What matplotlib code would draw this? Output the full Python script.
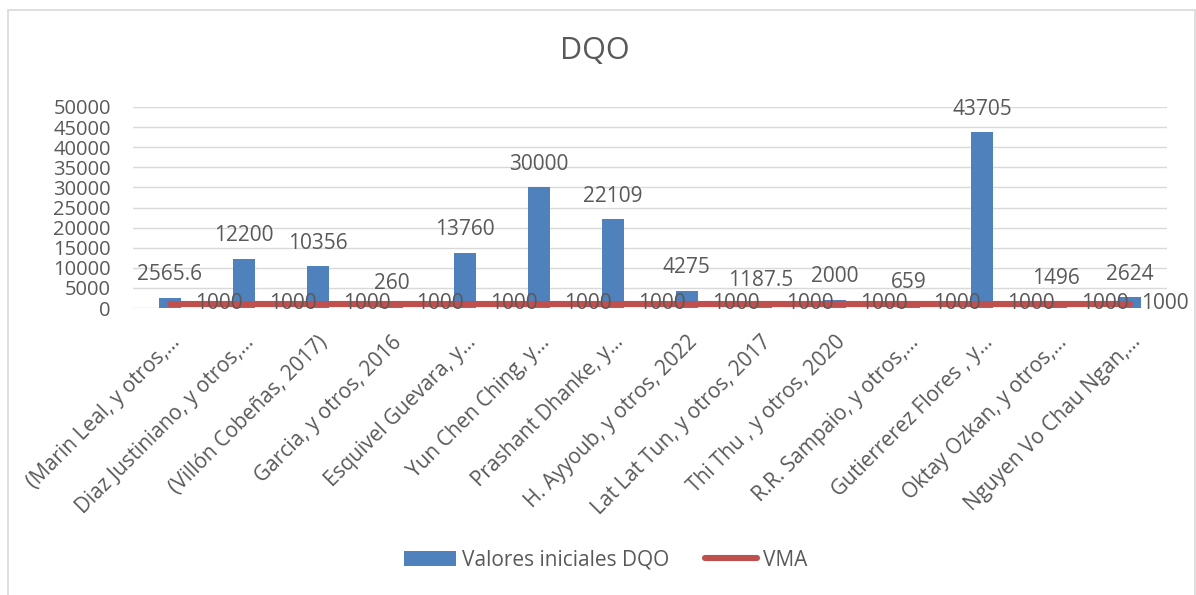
import matplotlib
matplotlib.use("Agg")
import matplotlib.pyplot as plt
from matplotlib.patches import Patch, Rectangle
from matplotlib.lines import Line2D

categories = [
    "(Marin Leal, y otros,…",
    "Diaz Justiniano, y otros,…",
    "(Villón Cobeñas, 2017)",
    "Garcia, y otros, 2016",
    "Esquivel Guevara, y…",
    "Yun Chen Ching, y…",
    "Prashant Dhanke, y…",
    "H. Ayyoub, y otros, 2022",
    "Lat Lat Tun, y otros, 2017",
    "Thi Thu , y otros, 2020",
    "R.R. Sampaio, y otros,…",
    "Gutierrerez Flores , y…",
    "Oktay Ozkan, y otros,…",
    "Nguyen Vo Chau Ngan,…",
]
dqo_values = [2565.6, 12200, 10356, 260, 13760, 30000, 22109, 4275, 1187.5,
              2000, 659, 43705, 1496, 2624]
vma_values = [1000] * 14
yticks = [0, 5000, 10000, 15000, 20000, 25000, 30000, 35000, 40000, 45000, 50000]
series_names = ["Valores iniciales DQO", "VMA"]
title = "DQO"

FONT = "Open Sans"
TXT = "#595959"
BLUE = "#4F81BD"
RED = "#C0504D"
GRID = "#D9D9D9"

plt.rcParams["font.family"] = [FONT, "DejaVu Sans"]

W, H = 1196, 595
fig = plt.figure(figsize=(W / 100, H / 100), dpi=100)
fig.patch.set_facecolor("white")

# chart border
fig.patches.append(Rectangle((8 / W, -0.05), (1195 - 8) / W, (1 - 10 / H) + 0.05,
                             transform=fig.transFigure, fill=False,
                             edgecolor=GRID, linewidth=1.2))

ax = fig.add_axes([133 / W, 1 - 308 / H, (1167 - 133) / W, (308 - 107) / H])
x = list(range(len(categories)))

ax.bar(x, dqo_values, width=0.30, color=BLUE, zorder=2)
ax.plot(x, vma_values, color=RED, linewidth=4.4, solid_capstyle="round", zorder=3)

ax.set_xlim(-0.5, len(categories) - 0.5)
ax.set_ylim(0, 50000)
ax.set_yticks(yticks)
ax.set_yticklabels([str(v) for v in yticks], fontsize=14.5, color=TXT)
ax.set_xticks(x)
ax.set_xticklabels(categories, rotation=45, ha="right", va="top",
                   rotation_mode="anchor", fontsize=15, color=TXT)
ax.tick_params(axis="y", length=0, pad=16)
ax.tick_params(axis="x", length=0, pad=17)

for s in ax.spines.values():
    s.set_visible(False)
ax.grid(axis="y", color=GRID, linewidth=1.0, zorder=0)
ax.set_axisbelow(True)

for i, v in enumerate(dqo_values):
    ax.annotate(f"{v:g}", (i, v), xytext=(0, 9), textcoords="offset points",
                ha="center", va="bottom", fontsize=15, color=TXT, zorder=5)

for i, v in enumerate(vma_values):
    dx = 18 if i < len(vma_values) - 1 else 8
    ax.annotate(f"{v:g}", (i, v), xytext=(dx, 0), textcoords="offset points",
                ha="left", va="center", fontsize=15, color=TXT, zorder=5,
                annotation_clip=False)

fig.text(595 / W, 1 - 51 / H, title, ha="center", va="center",
         fontsize=22, color=TXT)

handles = [Patch(facecolor=BLUE, edgecolor="none"),
           Line2D([0], [0], color=RED, linewidth=4.4, solid_capstyle="round")]
leg = fig.legend(handles, series_names, loc="center",
                 bbox_to_anchor=(606 / W, 1 - 560 / H), ncol=2, frameon=False,
                 fontsize=15, handlelength=2.5, handletextpad=0.3,
                 columnspacing=1.7)
for t in leg.get_texts():
    t.set_color(TXT)

fig.savefig("out.png", dpi=100, facecolor="white")
